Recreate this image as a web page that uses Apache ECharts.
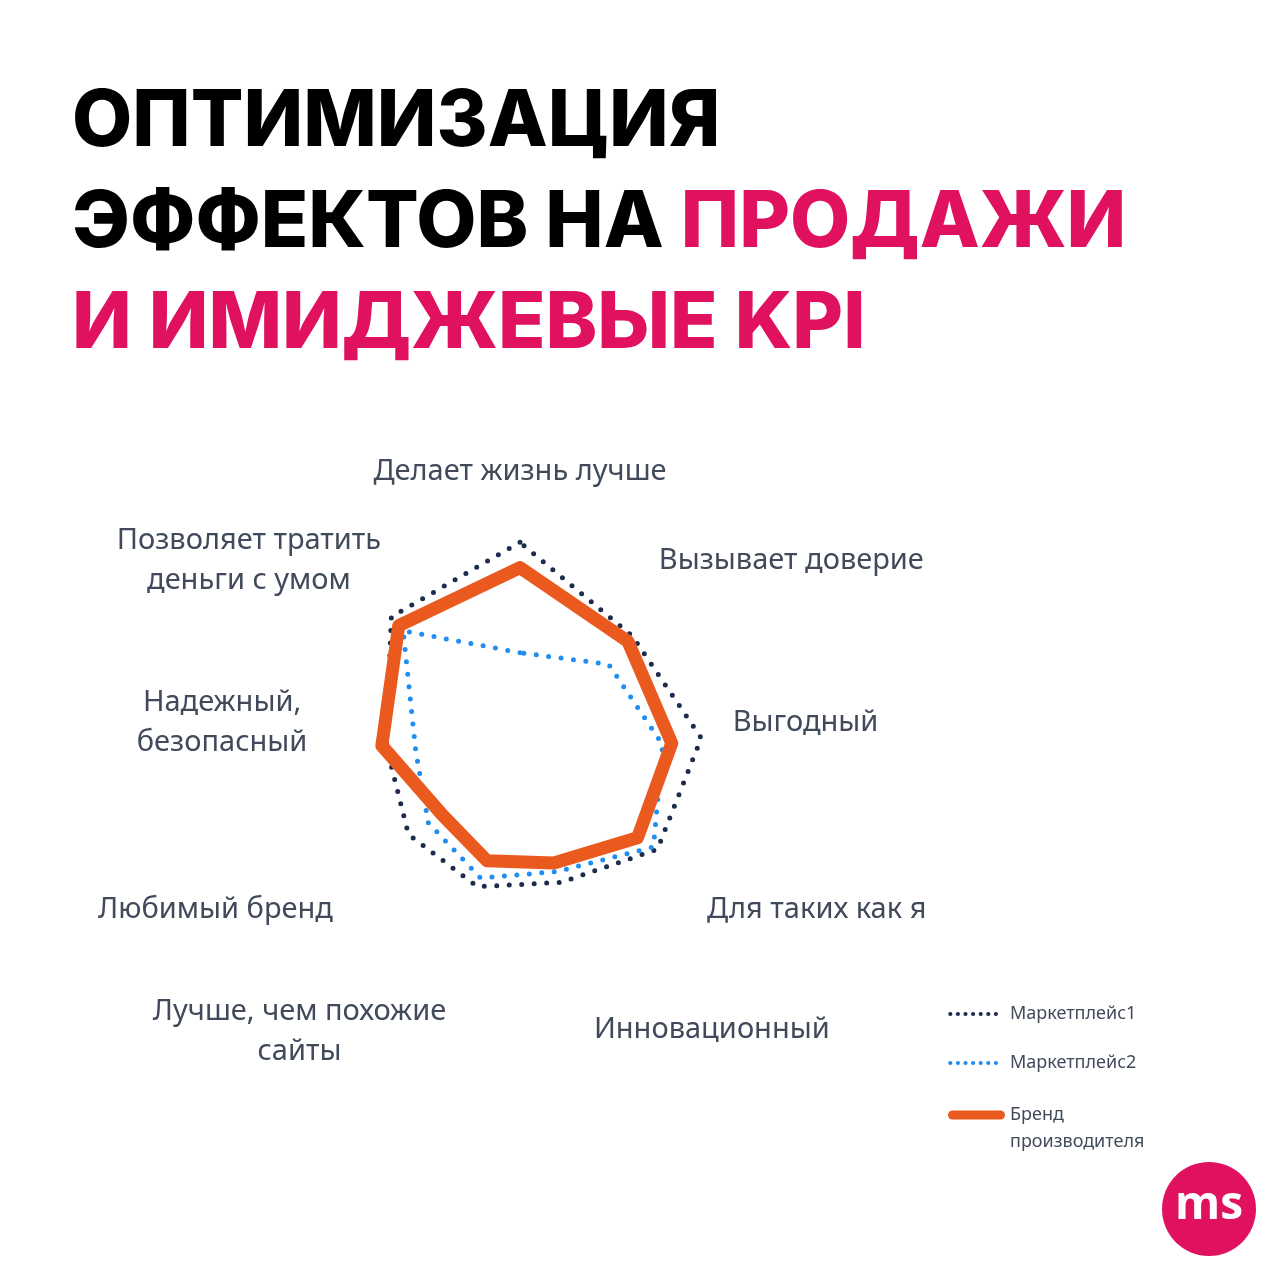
<!DOCTYPE html>
<html>
<head>
<meta charset="utf-8">
<script src="https://cdn.jsdelivr.net/npm/echarts@6/dist/echarts.min.js"></script>
<style>
html,body{margin:0;padding:0;background:#ffffff;}
#chart{width:1280px;height:1280px;}
</style>
</head>
<body>
<div id="chart"></div>
<script>
// ---- data (clockwise from the top, as in the picture) ----
const categories = [
  'Делает жизнь лучше',
  'Вызывает доверие',
  'Выгодный',
  'Для таких как я',
  'Инновационный',
  'Лучше, чем похожие\nсайты',
  'Любимый бренд',
  'Надежный,\nбезопасный',
  'Позволяет тратить\nденьги с умом'
];
const seriesNames = ['Маркетплейс1', 'Маркетплейс2', 'Бренд производителя'];
const marketplace1 = [99, 76, 80, 69, 52, 54, 56, 59, 87];
const marketplace2 = [51, 60, 63, 67, 47, 50, 46, 46, 79];
const brand        = [88, 73, 67, 59, 43, 42, 39, 61, 82];
const axisMax = 100;
const titleBlack1 = 'ОПТИМИЗАЦИЯ';
const titleBlack2 = 'ЭФФЕКТОВ НА ';
const titlePink2 = 'ПРОДАЖИ';
const titlePink3 = 'И ИМИДЖЕВЫЕ KPI';
const logoText = 'ms';

// ---- layout / style ----
const labelShift = [62, 44, 10, -32, -57, -59, -32, 10, 44]; // px, + = up
const colors = { m1: '#1d2b4c', m2: '#1f8ef0', brand: '#ea5a1e', pink: '#e0115f', text: '#414a5b' };

// ECharts radar runs counter-clockwise; reorder so the picture runs clockwise
const order = [0, 8, 7, 6, 5, 4, 3, 2, 1];
const reorder = arr => order.map(i => arr[i]);

const rich = {};
categories.forEach((c, i) => {
  const s = labelShift[i];
  rich['r' + i] = {
    align: 'center',
    lineHeight: 40,
    padding: s > 0 ? [0, 0, 2 * s, 0] : [-2 * s, 0, 0, 0],
    fontSize: 29,
    fontFamily: 'Noto Sans',
    color: colors.text
  };
});

function dotIcon() {
  let p = 'M0 0 M57 9 ';
  for (let k = 0; k < 7; k++) {
    const cx = 2.3 + k * 7.6, r = 2.1;
    p += 'M' + (cx - r) + ' 4.5 a' + r + ' ' + r + ' 0 1 0 ' + (2 * r) + ' 0 a' + r + ' ' + r + ' 0 1 0 ' + (-2 * r) + ' 0 Z ';
  }
  return 'path://' + p;
}
const barIcon = 'path://M0 0 M57 9 M4.5 0 L52.5 0 A4.5 4.5 0 0 1 52.5 9 L4.5 9 A4.5 4.5 0 0 1 4.5 0 Z';

const legendText = {
  color: colors.text,
  fontSize: 18,
  fontFamily: 'Noto Sans',
  rich: {
    a: { color: colors.text, fontSize: 18, fontFamily: 'Noto Sans' },
    b: { color: colors.text, fontSize: 18, fontFamily: 'Noto Sans', lineHeight: 27, padding: [27, 0, 0, 0] }
  }
};
function legendFormatter(name) {
  if (name === seriesNames[2]) {
    const parts = name.split(' ');
    return '{b|' + parts[0] + '}\n{b|' + parts[1] + '}';
  }
  return '{a|' + name + '}';
}

const chart = echarts.init(document.getElementById('chart'), null, { renderer: 'canvas' });
chart.setOption({
  backgroundColor: '#ffffff',
  animation: false,
  title: {
    text: '{k|' + titleBlack1 + '}\n{k|' + titleBlack2 + '}{p|' + titlePink2 + '}\n{p|' + titlePink3 + '}',
    left: 72,
    top: 72,
    padding: 0,
    textStyle: {
      rich: {
        k: { color: '#000000', fontSize: 78, fontWeight: 800, fontFamily: 'Inter', lineHeight: 101 },
        p: { color: colors.pink, fontSize: 78, fontWeight: 800, fontFamily: 'Inter', lineHeight: 101 }
      }
    }
  },
  legend: [{
    orient: 'vertical',
    left: 948,
    top: 1005,
    padding: 0,
    itemWidth: 57,
    itemHeight: 9,
    itemGap: 31,
    selectedMode: false,
    data: [
      { name: seriesNames[0], icon: dotIcon(), itemStyle: { color: colors.m1, borderWidth: 0 } },
      { name: seriesNames[1], icon: dotIcon(), itemStyle: { color: colors.m2, borderWidth: 0 } }
    ],
    formatter: legendFormatter,
    textStyle: legendText
  }, {
    orient: 'vertical',
    left: 948,
    top: 1079,
    padding: 0,
    itemWidth: 57,
    itemHeight: 9,
    selectedMode: false,
    data: [
      { name: seriesNames[2], icon: barIcon, itemStyle: { color: colors.brand, borderWidth: 0 } }
    ],
    formatter: legendFormatter,
    textStyle: legendText
  }],
  radar: {
    center: [520, 770],
    radius: 230,
    startAngle: 90,
    nameGap: -14,
    indicator: reorder(categories).map(n => ({ name: n, min: 0, max: axisMax })),
    axisName: {
      color: colors.text,
      fontSize: 29,
      fontFamily: 'Noto Sans',
      formatter: function (name) {
        const i = categories.indexOf(name);
        return name.split('\n').map(l => '{r' + i + '|' + l + '}').join('\n');
      },
      rich: rich
    },
    axisLine: { show: false },
    splitLine: { show: false },
    splitArea: { show: false },
    axisTick: { show: false },
    axisLabel: { show: false }
  },
  series: [{
    type: 'radar',
    symbol: 'none',
    silent: true,
    data: [
      {
        name: seriesNames[0],
        value: reorder(marketplace1),
        itemStyle: { color: colors.m1 },
        lineStyle: { color: colors.m1, width: 5, type: [0, 12.5], cap: 'round', join: 'round' }
      },
      {
        name: seriesNames[1],
        value: reorder(marketplace2),
        itemStyle: { color: colors.m2 },
        lineStyle: { color: colors.m2, width: 5, type: [0, 12.5], cap: 'round', join: 'round' }
      },
      {
        name: seriesNames[2],
        value: reorder(brand),
        itemStyle: { color: colors.brand },
        lineStyle: { color: colors.brand, width: 13, cap: 'round', join: 'round' }
      }
    ]
  }],
  graphic: [{
    type: 'group',
    left: 1162,
    top: 1162,
    children: [
      { type: 'circle', shape: { cx: 47, cy: 47, r: 47 }, style: { fill: colors.pink } },
      { type: 'text', x: 47, y: 44, style: { text: logoText, fill: '#ffffff', font: 'bold 46px "Open Sans"', align: 'center', verticalAlign: 'middle' } }
    ]
  }]
});
</script>
</body>
</html>
